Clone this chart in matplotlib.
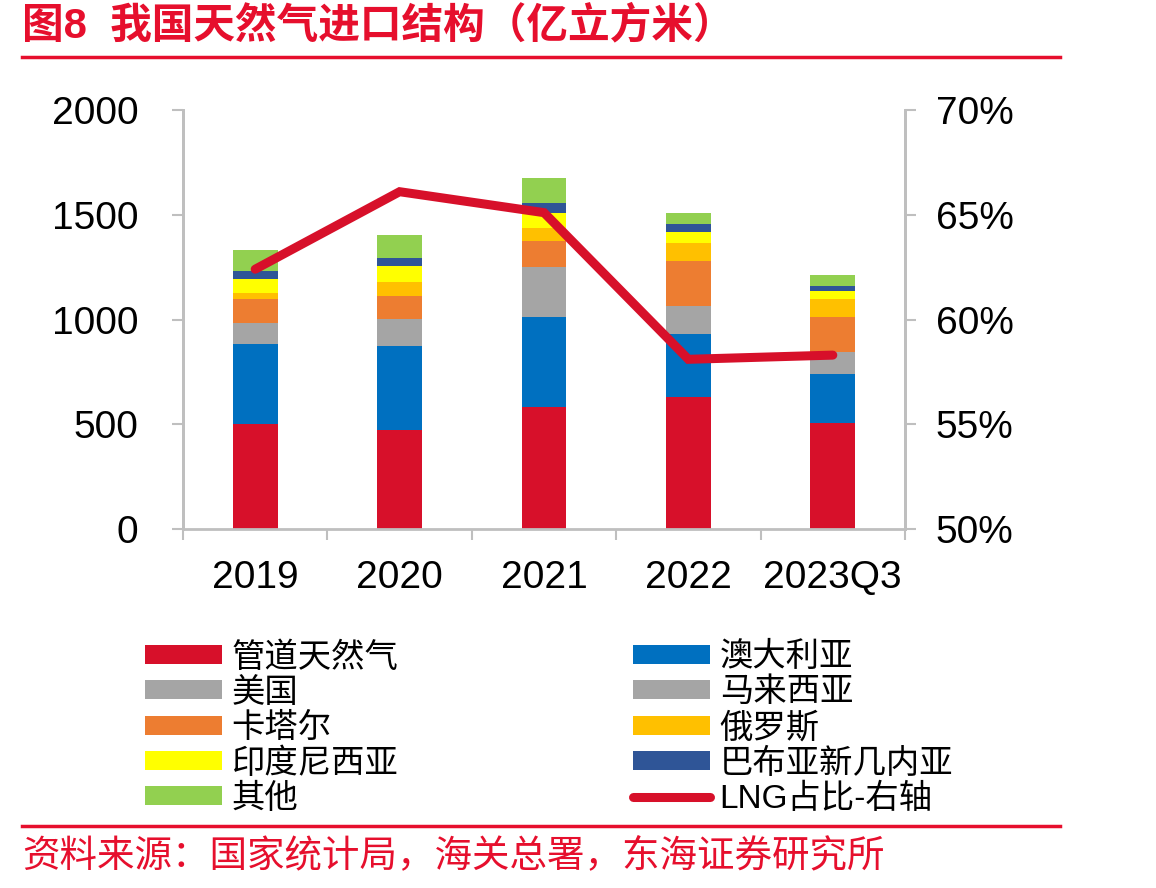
import matplotlib
matplotlib.use("Agg")
import matplotlib.pyplot as plt
import numpy as np
from matplotlib.patches import Patch
from matplotlib.lines import Line2D

plt.rcParams['font.family'] = ['Liberation Sans', 'Noto Sans CJK SC']

# data (亿立方米)
years = ['2019', '2020', '2021', '2022', '2023Q3']
pipeline = [501, 473, 584, 631, 504]
australia = [380, 402, 429, 300, 236]
usa = [5, 45, 120, 30, 35]
malaysia = [96, 81, 119, 103, 68]
qatar = [114, 113, 124, 217, 167]
russia = [32, 66, 62, 86, 86]
indonesia = [67, 74, 69, 52, 41]
png = [36, 41, 48, 37, 24]
other = [101, 108, 119, 51, 51]
lng_share = [0.624, 0.661, 0.651, 0.581, 0.583]

series = [
    ('管道天然气', pipeline, '#D7102A'),
    ('澳大利亚', australia, '#0070C0'),
    ('美国', usa, '#A5A5A5'),
    ('马来西亚', malaysia, '#A5A5A5'),
    ('卡塔尔', qatar, '#ED7D31'),
    ('俄罗斯', russia, '#FFC000'),
    ('印度尼西亚', indonesia, '#FFFF00'),
    ('巴布亚新几内亚', png, '#2F5597'),
    ('其他', other, '#92D050'),
]
red = '#D7102A'
axis_grey = '#BFBFBF'

fig = plt.figure(figsize=(11.56, 8.88), dpi=100)
ax = fig.add_axes([183/1156, 1-529/888, (905-183)/1156, (529-110)/888])
ax2 = ax.twinx()

x = np.arange(len(years))
bottom = np.zeros(len(years))
handles = {}
for name, vals, col in series:
    ax.bar(x, vals, 0.31, bottom=bottom, color=col, edgecolor='none', linewidth=0)
    bottom += np.array(vals)
    handles[name] = Patch(facecolor=col, edgecolor='none')

ax2.plot(x, lng_share, color=red, lw=6.5, solid_capstyle='round', solid_joinstyle='miter', zorder=5)
handles['LNG占比-右轴'] = Line2D([], [], color=red, lw=6.5, solid_capstyle='round')

ax.set_xlim(-0.5, len(years)-0.5)
ax.set_ylim(0, 2000)
ax.set_yticks([0, 500, 1000, 1500, 2000])
ax2.set_ylim(0.5, 0.7)
ax2.set_yticks([0.5, 0.55, 0.6, 0.65, 0.7])
ax2.set_yticklabels(['50%', '55%', '60%', '65%', '70%'])

ax.set_xticks(np.arange(-0.5, len(years), 1.0))
ax.set_xticklabels([])
ax.set_xticks(x, minor=True)
ax.set_xticklabels(years, minor=True)
ax.tick_params(axis='x', which='major', length=8, width=1.5, color=axis_grey, direction='out')
ax.tick_params(axis='x', which='minor', length=0, pad=22, labelsize=28)
ax.tick_params(axis='y', length=8, width=1.5, color=axis_grey, pad=24, labelsize=28)
ax2.tick_params(axis='y', length=8, width=1.5, color=axis_grey, pad=14, labelsize=28)

for a in (ax, ax2):
    a.spines['top'].set_visible(False)
    for s in ['left', 'right', 'bottom']:
        a.spines[s].set_color(axis_grey)
        a.spines[s].set_linewidth(2)
ax2.spines['bottom'].set_visible(False)
ax.set_zorder(ax2.get_zorder() - 1)
ax2.patch.set_visible(False)

# legend, two columns
col1 = ['管道天然气', '美国', '卡塔尔', '印度尼西亚', '其他']
col2 = ['澳大利亚', '马来西亚', '俄罗斯', '巴布亚新几内亚', 'LNG占比-右轴']
legkw = dict(frameon=False, fontsize=24, handlelength=2.3, handleheight=0.5,
             handletextpad=0.3, labelspacing=0.125, borderpad=0, borderaxespad=0, loc='upper left')
fig.legend([handles[k] for k in col1], col1, bbox_to_anchor=(145/1156, 1-642/888), **legkw)
fig.legend([handles[k] for k in col2], col2, bbox_to_anchor=(633/1156, 1-642/888), **legkw)

# title, rules, source
fig.text(22/1156, 1-26/888, '图8  我国天然气进口结构（亿立方米）', color='#E60F2D', fontsize=30,
         fontweight='bold', va='center', ha='left')
fig.add_artist(Line2D([22/1156, 1060/1156], [1-57/888, 1-57/888], color='#E60F2D', lw=2.5))
fig.add_artist(Line2D([22/1156, 1060/1156], [1-826/888, 1-826/888], color='#E60F2D', lw=2.5))
fig.text(22/1156, 1-856/888, '资料来源：国家统计局，海关总署，东海证券研究所', color='#E60F2D',
         fontsize=27, va='center', ha='left')

fig.savefig('out.png', dpi=100)
